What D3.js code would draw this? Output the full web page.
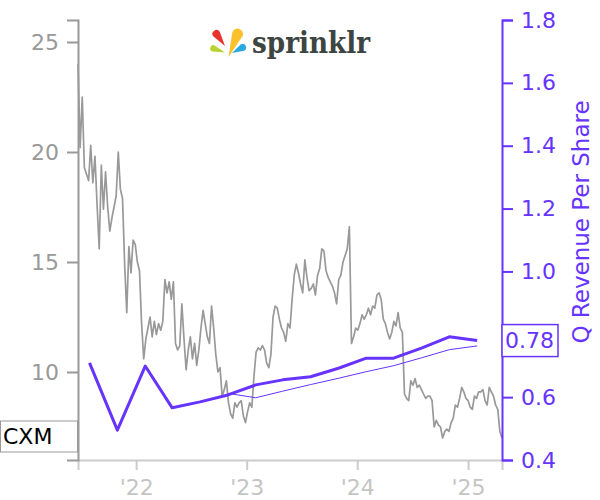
<!DOCTYPE html>
<html><head><meta charset="utf-8">
<script src="https://cdn.jsdelivr.net/npm/d3@7"></script>
<style>body{margin:0;background:#fff}svg{display:block;font-family:"DejaVu Sans",sans-serif}</style>
</head><body><svg id="c" width="600" height="500"></svg>
<script>
const ticker = "CXM";
const brand = "sprinklr";
const priceStartDate = "2021-06-23";
const priceEndDate = "2025-04-23";
// weekly closing prices (USD)
const weeklyPrices = [
24.0,20.2,22.5,19.3,19.0,18.7,20.3,18.6,19.8,17.6,
15.6,19.4,17.4,19.1,17.5,16.4,17.0,17.5,18.0,20.0,
18.3,17.9,14.9,12.7,15.7,14.5,16.0,15.8,15.0,14.6,
12.2,10.6,11.5,12.0,12.5,11.6,12.3,11.7,12.2,11.9,
12.3,14.2,13.6,14.1,13.3,14.1,11.3,11.0,11.2,13.1,
11.5,10.1,11.0,11.6,10.6,11.3,10.3,11.0,12.0,12.8,
12.2,11.6,11.3,13.0,12.0,10.8,10.0,10.2,8.9,9.2,
9.6,8.6,8.1,7.9,8.6,8.4,8.6,8.7,8.0,7.7,
8.2,8.6,8.4,9.8,10.9,11.1,11.0,11.2,11.0,10.4,
10.2,10.8,12.5,13.0,12.9,12.4,12.0,11.8,11.4,12.2,
12.0,13.3,14.4,14.9,14.5,14.0,13.6,15.1,14.3,13.7,
13.8,14.0,13.5,14.4,14.7,15.6,15.5,14.6,14.3,14.1,
13.9,13.6,13.1,14.2,14.4,15.0,15.3,15.6,16.6,11.3,
11.6,12.0,11.9,12.2,12.6,12.4,12.6,12.9,12.6,13.0,
12.9,13.5,13.6,13.3,12.4,12.2,11.8,11.5,11.8,12.3,
12.1,12.7,12.0,11.8,9.0,8.8,8.7,9.6,9.4,9.7,
9.3,9.4,9.2,9.0,8.8,8.9,8.9,8.7,7.5,7.8,
7.6,7.5,7.0,7.3,7.4,7.3,7.7,7.9,8.5,8.4,
8.8,9.3,9.1,8.8,8.7,8.4,8.3,8.9,8.8,9.1,
9.1,9.2,8.7,8.5,9.3,9.1,8.9,8.5,8.3,7.3,
7.0];
// quarterly revenue per share
const revDates = ["2021-07-31","2021-10-31","2022-01-31","2022-04-30","2022-07-31","2022-10-31","2023-01-31","2023-04-30","2023-07-31","2023-10-31","2024-01-31","2024-04-30","2024-07-31","2024-10-31","2025-01-31"];
const revPerShare = [0.709,0.495,0.699,0.566,0.585,0.607,0.639,0.655,0.665,0.692,0.724,0.724,0.756,0.792,0.780];
// thin line (trailing average)
const avgDates = ["2022-10-31","2023-01-31","2023-04-30","2023-07-31","2023-10-31","2024-01-31","2024-04-30","2024-07-31","2024-10-31","2025-01-31"];
const avgRevPerShare = [0.612,0.598,0.619,0.640,0.660,0.681,0.700,0.725,0.751,0.763];
const leftTicks = [10,15,20,25];
const rightTicks = [0.4,0.6,1.0,1.2,1.4,1.6,1.8];
const yearTicks = ["2022-01-01","2023-01-01","2024-01-01","2025-01-01"];
const lastRevLabel = "0.78";
const rightTitle = "Q Revenue Per Share";

const P = d3.timeParse("%Y-%m-%d");
const purple = "#6633ff", gray = "#999";
const svg = d3.select("#c");
const FS = 22;

const x = d3.scaleTime().domain([P(priceStartDate), P(priceEndDate)]).range([78, 502]);
const yL = d3.scaleLinear().domain([6, 26]).range([460, 20]);
const yR = d3.scaleLinear().domain([0.4, 1.8]).range([460, 20]);

const start = P(priceStartDate);
const priceData = weeklyPrices.map((v, i) => ({d: d3.timeDay.offset(start, 7 * i), v}));

svg.append("path").datum(priceData)
  .attr("fill", "none").attr("stroke", gray).attr("stroke-width", 1.7).attr("stroke-linejoin", "round")
  .attr("d", d3.line().x(d => x(d.d)).y(d => yL(d.v)));

svg.append("path").datum(avgDates.map((d, i) => ({d: P(d), v: avgRevPerShare[i]})))
  .attr("fill", "none").attr("stroke", purple).attr("stroke-width", 1)
  .attr("d", d3.line().x(d => x(d.d)).y(d => yR(d.v)));

svg.append("path").datum(revDates.map((d, i) => ({d: P(d), v: revPerShare[i]})))
  .attr("fill", "none").attr("stroke", purple).attr("stroke-width", 3).attr("stroke-linejoin", "round")
  .attr("d", d3.line().x(d => x(d.d)).y(d => yR(d.v)));

// x axis
const gx = svg.append("g").attr("transform", "translate(0,460)")
  .call(d3.axisBottom(x).tickValues(yearTicks.map(P)).tickFormat(d => "'" + d3.timeFormat("%y")(d))
    .tickSize(10).tickSizeOuter(10).tickPadding(9));
gx.selectAll("path,line").attr("stroke", "#ccc").attr("stroke-width", 2);
gx.selectAll("text").attr("fill", "#c4c4c4").style("font-size", FS + "px").attr("font-family", "DejaVu Sans");

// left axis
const gl = svg.append("g").attr("transform", "translate(78,0)")
  .call(d3.axisLeft(yL).tickValues(leftTicks).tickSize(11).tickSizeOuter(11).tickPadding(8));
gl.selectAll("path,line").attr("stroke", gray).attr("stroke-width", 2);
gl.selectAll("text").attr("fill", gray).style("font-size", FS + "px").attr("font-family", "DejaVu Sans");

// right axis
const gr = svg.append("g").attr("transform", "translate(502,0)")
  .call(d3.axisRight(yR).tickValues(rightTicks).tickFormat(d3.format(".1f")).tickSize(11).tickSizeOuter(11).tickPadding(8));
gr.selectAll("path,line").attr("stroke", purple).attr("stroke-width", 2);
gr.selectAll("text").attr("fill", purple).style("font-size", FS + "px").attr("font-family", "DejaVu Sans");

// last value box
const lastY = yR(revPerShare[revPerShare.length - 1]);
svg.append("rect").attr("x", 502).attr("y", lastY - 16).attr("width", 56).attr("height", 32)
  .attr("fill", "#fff").attr("stroke", purple).attr("stroke-width", 1.5);
svg.append("text").attr("x", 505).attr("y", lastY).attr("dy", "0.35em")
  .attr("fill", purple).style("font-size", FS + "px").text(lastRevLabel);

// right title
svg.append("text").attr("transform", "translate(589,222) rotate(-90)")
  .attr("text-anchor", "middle").attr("fill", purple).style("font-size", "23px").text(rightTitle);

// ticker box
svg.append("rect").attr("x", 0.5).attr("y", 421).attr("width", 77).attr("height", 31)
  .attr("fill", "#fff").attr("stroke", gray).attr("stroke-width", 1);
svg.append("text").attr("x", 3).attr("y", 436.5).attr("dy", "0.35em")
  .attr("fill", "#000").style("font-size", FS + "px").text(ticker);

// logo
function drop(g, tip, c, r, color) {
  const dx = c[0] - tip[0], dy = c[1] - tip[1], L = Math.hypot(dx, dy);
  const d = [dx / L, dy / L], n = [-d[1], d[0]];
  const p1 = [c[0] + n[0] * r, c[1] + n[1] * r], p2 = [c[0] + d[0] * r, c[1] + d[1] * r], p3 = [c[0] - n[0] * r, c[1] - n[1] * r];
  g.append("path").attr("fill", color).attr("d",
    `M${tip}L${p1}A${r},${r} 0 0 0 ${p2}A${r},${r} 0 0 0 ${p3}Z`);
}
const logo = svg.append("g");
drop(logo, [225, 46], [216.5, 34], 4, "#e8322b");
drop(logo, [228.5, 57], [237.5, 34], 5.5, "#fbc12d");
drop(logo, [225, 52.5], [213.5, 48.5], 3.3, "#b7d333");
drop(logo, [232, 53], [242.5, 47.5], 3.6, "#2aa9e0");
logo.append("text").attr("x", 252).attr("y", 52.5).attr("fill", "#3d4543")
  .attr("font-family", "DejaVu Serif").style("font-size", "29px").attr("font-weight", "600")
  .attr("textLength", 118).attr("lengthAdjust", "spacingAndGlyphs").text(brand);
</script></body></html>
